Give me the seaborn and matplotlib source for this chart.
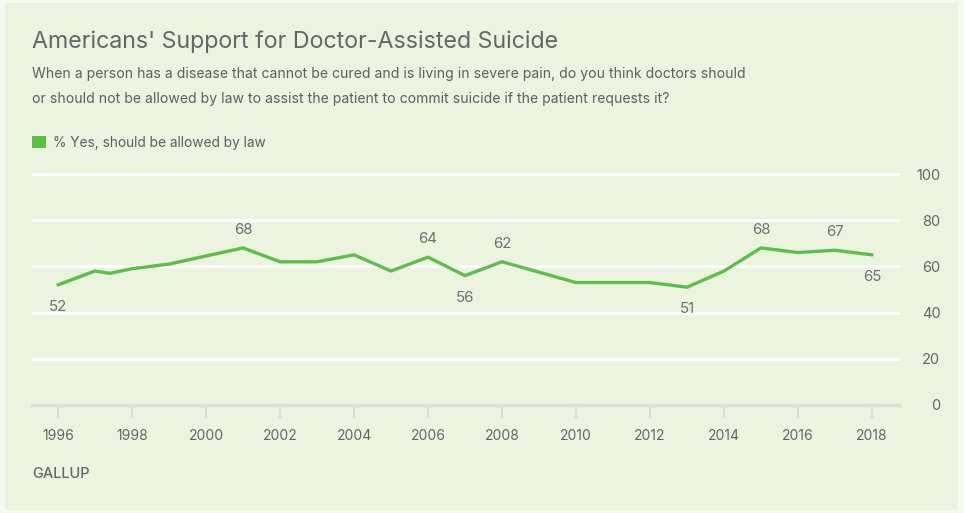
import matplotlib
matplotlib.use("Agg")
import matplotlib.pyplot as plt
import seaborn as sns
import pandas as pd
from matplotlib.patches import Rectangle, Patch

years = [1996, 1997, 1997.4, 1998, 1999, 2001, 2002, 2003, 2004, 2005, 2006, 2007,
         2008, 2010, 2011, 2012, 2013, 2014, 2015, 2016, 2017, 2018]
values = [52, 58, 57, 59, 61, 68, 62, 62, 65, 58, 64, 56,
          62, 53, 53, 53, 51, 58, 68, 66, 67, 65]
label_years = [1996, 2001, 2006, 2007, 2008, 2013, 2015, 2017, 2018]
label_values = [52, 68, 64, 56, 62, 51, 68, 67, 65]
label_below = [True, False, False, True, False, True, False, False, True]
x_ticks = list(range(1996, 2019, 2))
y_ticks = [0, 20, 40, 60, 80, 100]

title = "Americans' Support for Doctor-Assisted Suicide"
subtitle = ("When a person has a disease that cannot be cured and is living in severe pain, do you think doctors should\n"
            "or should not be allowed by law to assist the patient to commit suicide if the patient requests it?")
legend_label = "% Yes, should be allowed by law"
source = "GALLUP"

BG = "#ECF3DE"
GREEN = "#5CBF4A"
GREY = "#666666"

sns.set_theme(style="white")
plt.rcParams["font.family"] = ["Inter", "DejaVu Sans"]

W, H = 964, 513
fig = plt.figure(figsize=(W / 100, H / 100), dpi=100, facecolor="#F5F9EE")
fig.patches.append(Rectangle((5 / W, 3 / H), (958 - 5) / W, (510 - 3) / H,
                             transform=fig.transFigure, facecolor=BG, edgecolor="none", zorder=-10))

left, right, top_px, bot_px = 32, 900, 172, 405
ax = fig.add_axes([left / W, (H - bot_px) / H, (right - left) / W, (bot_px - top_px) / H])
ax.set_zorder(5)
ax.patch.set_alpha(0)

df = pd.DataFrame({"year": years, "value": values})
sns.lineplot(data=df, x="year", y="value", ax=ax, color=GREEN, linewidth=2.4, zorder=3)

px_per_year = (872 - 58) / 22
xmin = 1996 - (58 - left) / px_per_year
xmax = 1996 + (right - 58) / px_per_year
ax.set_xlim(xmin, xmax)
ax.set_ylim(0, 100 * (bot_px - top_px) / (bot_px - 174))

for y in y_ticks[1:]:
    ax.axhline(y, color="white", lw=2.2, zorder=1)

for sp in ["top", "left", "right"]:
    ax.spines[sp].set_visible(False)
ax.spines["bottom"].set_color("#DCDFD6")
ax.spines["bottom"].set_linewidth(2.5)
ax.spines["bottom"].set_zorder(2)

ax.set_xticks(x_ticks)
ax.set_xticklabels([str(t) for t in x_ticks])
ax.tick_params(axis="x", direction="out", length=9, width=1.5, color="#DCDFD6",
               pad=8, labelsize=10, labelcolor=GREY, bottom=True)
ax.yaxis.tick_right()
ax.set_yticks(y_ticks)
ax.set_yticklabels([str(t) for t in y_ticks])
ax.tick_params(axis="y", length=0, pad=29, labelsize=10.5, labelcolor=GREY, right=True)
for lab in ax.get_yticklabels():
    lab.set_horizontalalignment("right")
ax.set_xlabel("")
ax.set_ylabel("")
ax.grid(False)

for yr, v, below in zip(label_years, label_values, label_below):
    ax.annotate(str(v), (yr, v), xytext=(0, -16 if below else 13), textcoords="offset points",
                ha="center", va="center", fontsize=10.8, color="#707070")

fig.text(32 / W, 1 - 42 / H, title, fontsize=16.7, color=GREY, va="center", ha="left")
fig.text(32 / W, 1 - 86.5 / H, subtitle, fontsize=10.1, color="#606060", va="center", ha="left",
         linespacing=1.95)

handle = Patch(facecolor=GREEN, edgecolor="none")
fig.legend([handle], [legend_label], loc="center left", bbox_to_anchor=(27 / W, 1 - 143 / H),
           frameon=False, fontsize=9.85, labelcolor="#606060", handlelength=1.0, handleheight=1.0,
           handletextpad=0.5, borderaxespad=0)

fig.text(32 / W, 1 - 474 / H, source, fontsize=10.5, color=GREY, va="center", ha="left",
         fontweight="medium")

fig.savefig("out.png", dpi=100, facecolor=fig.get_facecolor())
